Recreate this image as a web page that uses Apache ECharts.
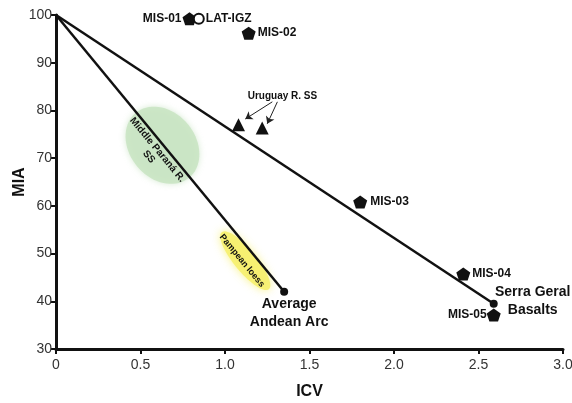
<!DOCTYPE html>
<html><head><meta charset="utf-8">
<script src="https://cdn.jsdelivr.net/npm/echarts@6/dist/echarts.min.js"></script>
<style>html,body{margin:0;padding:0;background:#fff}#c{width:572px;height:403px}</style>
</head><body><div id="c"></div>
<script>
// ---- data ----
const xMin = 0, xMax = 3, xInterval = 0.5;
const yMin = 30, yMax = 100, yInterval = 10;
const origin = [0, 100];
const endMemberNames = ['Average\nAndean Arc', 'Serra Geral\nBasalts'];
const endMemberICV = [1.35, 2.59];
const endMemberMIA = [42, 39.5];
const sampleNames = ['MIS-01', 'MIS-02', 'MIS-03', 'MIS-04', 'MIS-05'];
const sampleICV = [0.79, 1.14, 1.80, 2.41, 2.59];
const sampleMIA = [99.2, 96.2, 60.8, 45.7, 37.1];
const refNames = ['LAT-IGZ'];
const refICV = [0.845];
const refMIA = [99.2];
const uruguayICV = [1.08, 1.22];
const uruguayMIA = [77.0, 76.3];
const uruguayLabel = 'Uruguay R. SS';
const uruguayLabelPos = [1.34, 83.0];
const arrowStartICV = [1.28, 1.31];
const arrowStartMIA = [81.8, 81.8];
const arrowEndICV = [1.12, 1.25];
const arrowEndMIA = [78.2, 77.2];
const fieldNames = ['Middle Paraná R.\nSS', 'Pampean loess'];
const fieldICV = [0.63, 1.12];
const fieldMIA = [72.7, 48.5];
const fieldTextICV = [0.574, 1.10];
const fieldTextMIA = [71.0, 48.5];

// ---- styles ----
const FONT = 'Liberation Sans, Arial, sans-serif';
const pentagon = 'path://M0,-10 L9.51,-3.09 L5.88,8.09 L-5.88,8.09 L-9.51,-3.09 Z';
const sampleLabel = {
  'MIS-01': {position: 'left', distance: 1},
  'MIS-02': {position: 'right', distance: 2},
  'MIS-03': {position: 'right', distance: 3},
  'MIS-04': {position: 'right', distance: 2},
  'MIS-05': {position: 'left', distance: 0}
};
const fieldStyle = [
  {a: 42, b: 33, fill: 'rgba(200,228,194,0.85)', blur: 6, font: 'bold 10px ' + FONT},
  {a: 37, b: 11, fill: 'rgba(246,240,110,0.9)', blur: 8, font: 'bold 9px ' + FONT}
];

const chart = echarts.init(document.getElementById('c'), null, {renderer: 'canvas'});

function lineAngle(api) {
  const p0 = api.coord(origin);
  const p1 = api.coord([endMemberICV[0], endMemberMIA[0]]);
  return Math.atan2(p1[1] - p0[1], p1[0] - p0[0]);
}

const fieldSeries = fieldNames.map((nm, i) => ({
  type: 'custom',
  z: 1,
  silent: true,
  data: [[fieldICV[i], fieldMIA[i]]],
  renderItem: function (params, api) {
    const c = api.coord([api.value(0), api.value(1)]);
    const th = lineAngle(api);
    const st = fieldStyle[i];
    const pts = [];
    for (let k = 0; k < 72; k++) {
      const t = k / 72 * Math.PI * 2;
      pts.push([c[0] + st.a * Math.cos(t) * Math.cos(th) - st.b * Math.sin(t) * Math.sin(th),
                c[1] + st.a * Math.cos(t) * Math.sin(th) + st.b * Math.sin(t) * Math.cos(th)]);
    }
    return {type: 'polygon', shape: {points: pts},
      style: {fill: st.fill, shadowBlur: st.blur, shadowColor: st.fill}};
  }
}));

const fieldTextSeries = {
  type: 'custom',
  z: 5,
  silent: true,
  data: fieldNames.map((n, i) => [fieldTextICV[i], fieldTextMIA[i], i]),
  renderItem: function (params, api) {
    const c = api.coord([api.value(0), api.value(1)]);
    const th = lineAngle(api);
    const i = api.value(2);
    return {type: 'text', x: c[0], y: c[1], rotation: -th,
      style: {text: fieldNames[i], font: fieldStyle[i].font, fill: '#111',
        align: 'center', verticalAlign: 'middle', lineHeight: 11}};
  }
};

const labelBase = {fontFamily: FONT, fontWeight: 'bold', color: '#111'};

const option = {
  animation: false,
  backgroundColor: '#fff',
  grid: {left: 56, right: 9, top: 15, bottom: 54, containLabel: false, outerBoundsMode: 'none'},
  xAxis: {
    type: 'value', min: xMin, max: xMax, interval: xInterval,
    name: 'ICV', nameLocation: 'middle', nameGap: 35, nameMoveOverlap: false,
    nameTextStyle: {fontFamily: FONT, fontWeight: 'bold', fontSize: 16, color: '#111'},
    axisLine: {show: true, onZero: false, lineStyle: {color: '#111', width: 3}},
    axisTick: {show: true, length: 5, lineStyle: {color: '#111', width: 2}},
    axisLabel: {fontFamily: FONT, fontSize: 14, color: '#333', margin: 9,
      formatter: v => v === 0 ? '0' : v.toFixed(1)},
    splitLine: {show: false}
  },
  yAxis: {
    type: 'value', min: yMin, max: yMax, interval: yInterval,
    name: 'MIA', nameLocation: 'middle', nameGap: 28, nameMoveOverlap: false,
    nameTextStyle: {fontFamily: FONT, fontWeight: 'bold', fontSize: 16, color: '#111'},
    axisLine: {show: true, onZero: false, lineStyle: {color: '#111', width: 3}},
    axisTick: {show: true, length: 5, lineStyle: {color: '#111', width: 2}},
    axisLabel: {fontFamily: FONT, fontSize: 14, color: '#333', margin: 4},
    splitLine: {show: false}
  },
  series: [
    ...fieldSeries,
    fieldTextSeries,
    ...endMemberICV.map((x, i) => ({
      type: 'line', z: 3, silent: true, symbol: 'none',
      lineStyle: {color: '#111', width: 2.5},
      data: [origin, [x, endMemberMIA[i]]]
    })),
    {
      type: 'scatter', z: 4, symbol: 'circle', symbolSize: 8,
      itemStyle: {color: '#111', opacity: 1},
      data: endMemberICV.map((x, i) => ({
        value: [x, endMemberMIA[i]], name: endMemberNames[i],
        label: i === 0
          ? {show: true, position: 'bottom', distance: 2, offset: [5, -3], align: 'center'}
          : {show: true, position: 'right', distance: 0, offset: [35, -3], align: 'center'}
      })),
      label: Object.assign({formatter: p => p.name, fontSize: 14, lineHeight: 18}, labelBase)
    },
    {
      type: 'scatter', z: 6, symbol: pentagon, symbolSize: [14, 13],
      itemStyle: {color: '#111', opacity: 1},
      data: sampleNames.map((n, i) => ({
        value: [sampleICV[i], sampleMIA[i]], name: n,
        label: sampleLabel[n]
      })),
      label: Object.assign({show: true, formatter: p => p.name, fontSize: 12}, labelBase)
    },
    {
      type: 'scatter', z: 7, symbol: 'circle', symbolSize: 10,
      itemStyle: {color: '#fff', borderColor: '#111', borderWidth: 2, opacity: 1},
      data: refNames.map((n, i) => ({value: [refICV[i], refMIA[i]], name: n})),
      label: Object.assign({show: true, position: 'right', distance: 1, formatter: p => p.name, fontSize: 12}, labelBase)
    },
    {
      type: 'scatter', z: 6, symbol: 'triangle', symbolSize: [13, 13],
      itemStyle: {color: '#111', opacity: 1},
      data: uruguayICV.map((x, i) => [x, uruguayMIA[i]])
    },
    {
      type: 'lines', coordinateSystem: 'cartesian2d', z: 6, silent: true,
      symbol: ['none', 'arrow'], symbolSize: 7,
      lineStyle: {color: '#222', width: 1, opacity: 1},
      data: arrowStartICV.map((x, i) => ({coords: [[x, arrowStartMIA[i]], [arrowEndICV[i], arrowEndMIA[i]]]}))
    },
    {
      type: 'scatter', z: 6, symbolSize: 0, silent: true,
      itemStyle: {opacity: 1},
      data: [{value: uruguayLabelPos, name: uruguayLabel}],
      label: Object.assign({show: true, position: 'inside', formatter: p => p.name, fontSize: 10}, labelBase)
    }
  ]
};
chart.setOption(option);
</script>
</body></html>
